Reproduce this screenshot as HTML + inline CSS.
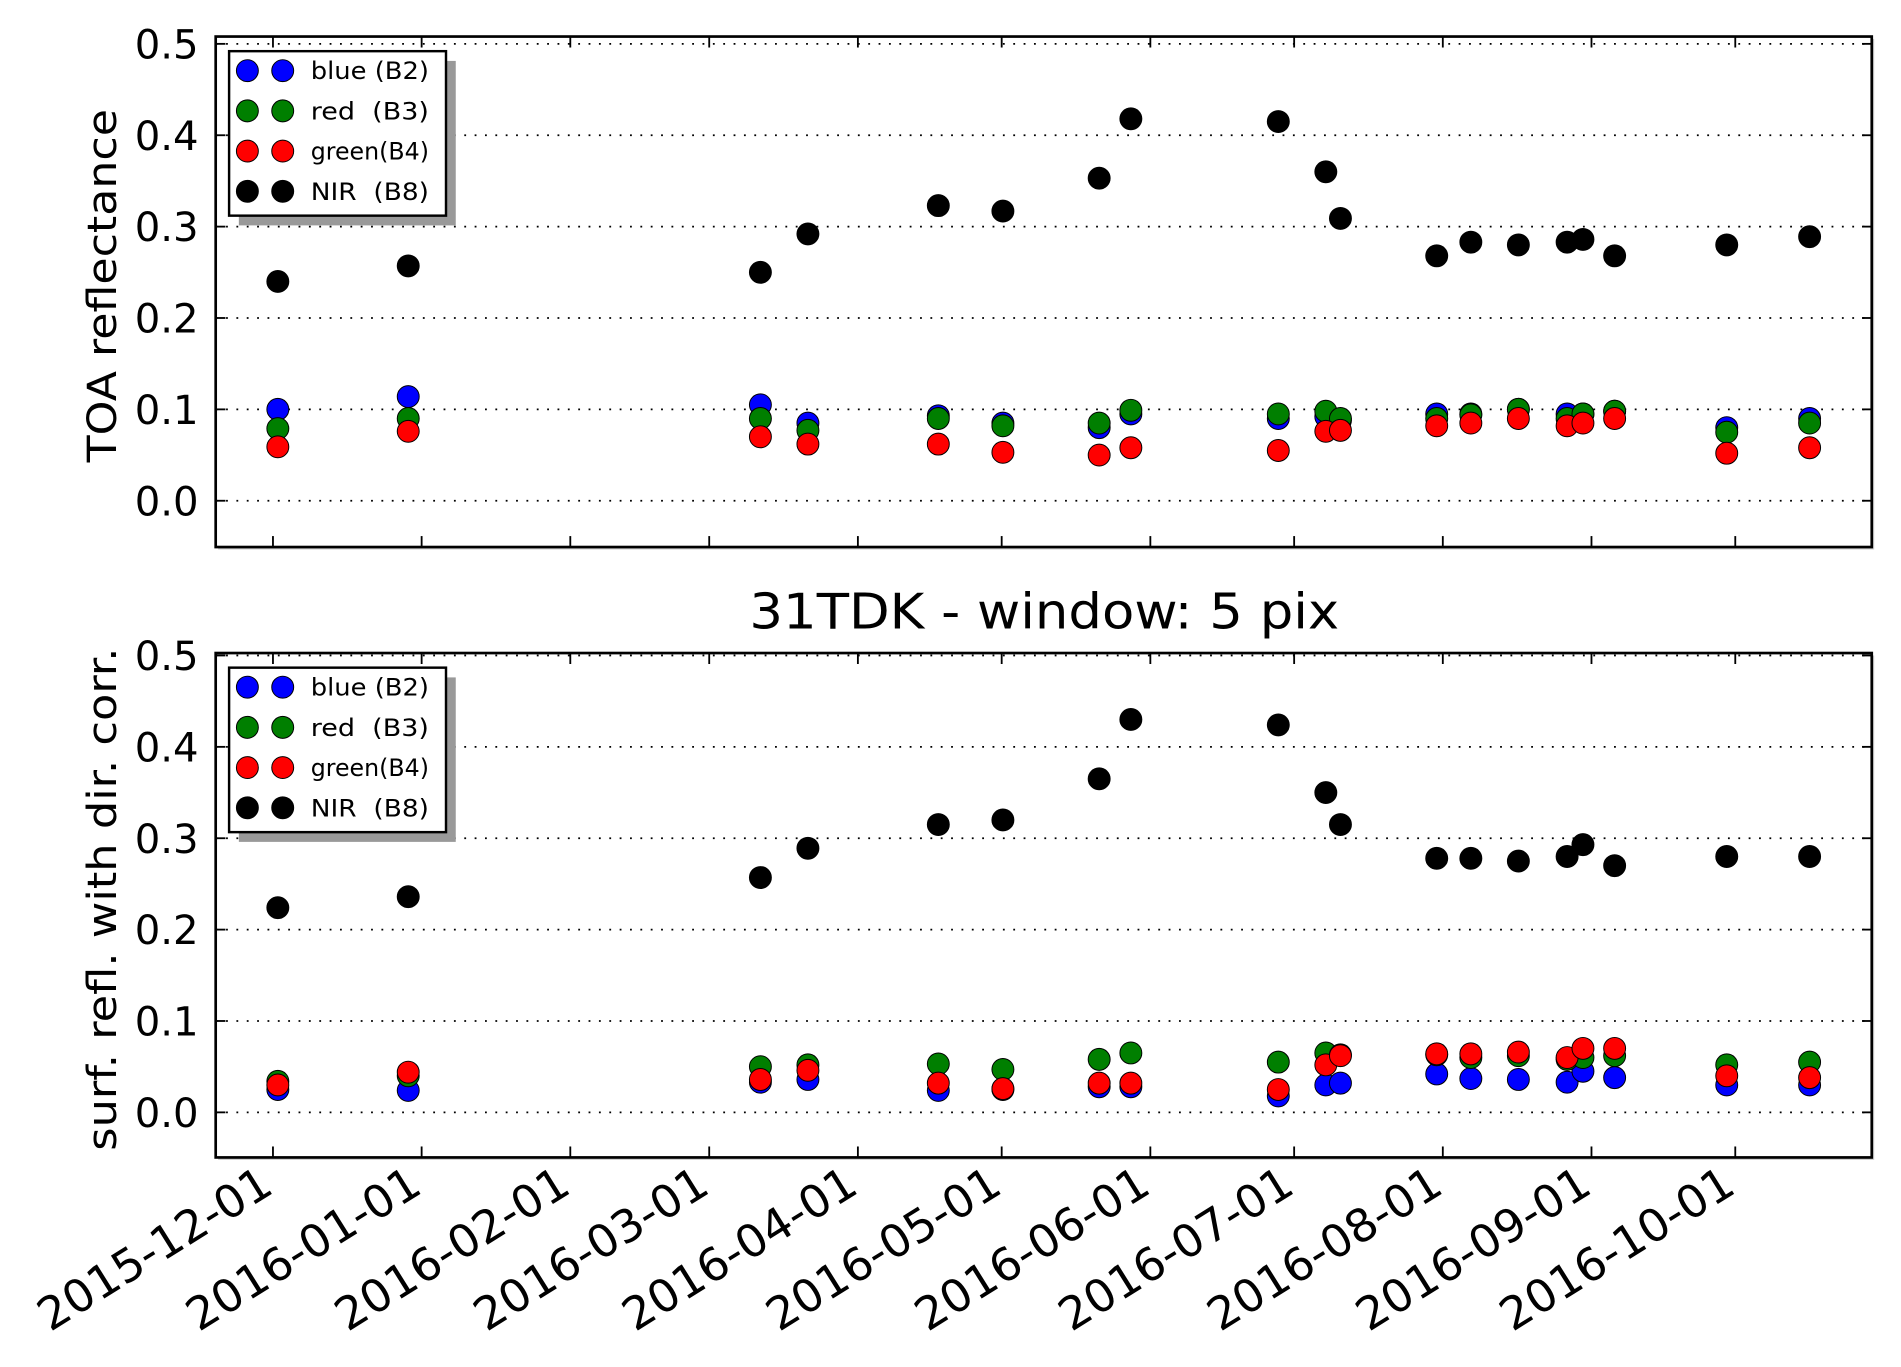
<!DOCTYPE html>
<html><head><meta charset="utf-8"><style>
html,body{margin:0;padding:0;background:#fff;}
svg{display:block;}
text{font-family:"DejaVu Sans","Liberation Sans",sans-serif;fill:#000;}
</style></head><body>
<svg id="s" width="1901" height="1367" viewBox="0 0 1560 1122" preserveAspectRatio="none" xmlns="http://www.w3.org/2000/svg"></svg>
<script>
(function(){
const S=document.getElementById('s');let h='';
const xs=[228,335,624,663,770,823,902,928,1049,1088,1100,1179,1207,1246,1286,1299,1325,1417,1485];
const topD={n:[.24,.257,.25,.292,.323,.317,.353,.418,.415,.36,.309,.268,.283,.28,.283,.286,.268,.28,.289],
b:[.1,.114,.105,.085,.093,.085,.08,.095,.09,.092,.088,.095,.095,.1,.095,.095,.098,.08,.09],
g:[.079,.09,.09,.077,.09,.082,.085,.099,.095,.098,.09,.09,.094,.1,.09,.095,.098,.075,.085],
r:[.059,.076,.07,.062,.062,.053,.05,.058,.055,.076,.077,.082,.085,.09,.082,.085,.09,.052,.058]};
const botD={n:[.224,.236,.257,.289,.315,.32,.365,.43,.424,.35,.315,.278,.278,.275,.28,.293,.27,.28,.28],
b:[.025,.024,.033,.036,.024,.025,.028,.028,.018,.03,.032,.042,.037,.036,.033,.045,.038,.03,.03],
g:[.034,.04,.05,.052,.053,.047,.058,.065,.055,.065,.063,.063,.06,.062,.058,.06,.062,.052,.055],
r:[.03,.044,.036,.046,.032,.026,.032,.032,.025,.052,.062,.064,.064,.066,.06,.07,.07,.04,.038]};
const ticksX=[224,346,468,582,704,822,944,1062,1184,1306,1424];
const labs=['2015-12-01','2016-01-01','2016-02-01','2016-03-01','2016-04-01','2016-05-01','2016-06-01','2016-07-01','2016-08-01','2016-09-01','2016-10-01'];
function panel(T,B,y0,d,ylab,yl1){
 const L=177,R=1536;const Y=v=>y0-v*750;
 h+=`<rect x="${L+2}" y="${T+2}" width="${R-L}" height="${B-T}" fill="#ccc"/><rect x="${L}" y="${T}" width="${R-L}" height="${B-T}" fill="#fff"/>`;
 for(let i=0;i<=5;i++){const y=Y(i/10);
  h+=`<line x1="${L}" x2="${R}" y1="${y}" y2="${y}" stroke="#000" stroke-width="1.4" stroke-dasharray="1.5,7"/>`;
  h+=`<line x1="${L}" x2="${L+8}" y1="${y}" y2="${y}" stroke="#000" stroke-width="1.5"/><line x1="${R-8}" x2="${R}" y1="${y}" y2="${y}" stroke="#000" stroke-width="1.5"/>`;
  h+=`<text x="163" y="${y+12}" font-size="33" text-anchor="end">${(i/10).toFixed(1)}</text>`;}
 for(const x of ticksX){h+=`<line x1="${x}" x2="${x}" y1="${B}" y2="${B-9}" stroke="#000" stroke-width="1.5"/><line x1="${x}" x2="${x}" y1="${T}" y2="${T+9}" stroke="#000" stroke-width="1.5"/>`;}
 const dot=(x,v,c)=>{h+=`<circle cx="${x}" cy="${Y(v)}" r="9" fill="${c}" stroke="#000" stroke-width="0.8"/>`;};
 xs.forEach((x,i)=>dot(x,d.b[i],'#0000ff'));xs.forEach((x,i)=>dot(x,d.g[i],'#007f00'));
 xs.forEach((x,i)=>dot(x,d.r[i],'#ff0000'));xs.forEach((x,i)=>dot(x,d.n[i],'#000'));
 h+=`<rect x="${L}" y="${T}" width="${R-L}" height="${B-T}" fill="none" stroke="#000" stroke-width="2.2"/>`;
 const cy=(T+B)/2-5;
 h+=`<text transform="translate(95,${cy}) rotate(-90)" font-size="33" text-anchor="middle" textLength="${yl1}" lengthAdjust="spacingAndGlyphs">${ylab}</text>`;
 const lx=188,ly=T+12;
 h+=`<rect x="${lx+8}" y="${ly+8}" width="178" height="135" fill="#999"/><rect x="${lx}" y="${ly}" width="178" height="135" fill="#fff" stroke="#000" stroke-width="2"/>`;
 const ent=[['#0000ff','blue (B2)'],['#007f00','red&#160;&#160;(B3)'],['#ff0000','green(B4)'],['#000','NIR&#160;&#160;(B8)']];
 ent.forEach((e,i)=>{const y=ly+16+i*33;
  h+=`<circle cx="${lx+15}" cy="${y}" r="9" fill="${e[0]}" stroke="#000" stroke-width="0.8"/><circle cx="${lx+44}" cy="${y}" r="9" fill="${e[0]}" stroke="#000" stroke-width="0.8"/>`;
  h+=`<text x="${lx+67}" y="${y+7}" font-size="20" textLength="97" lengthAdjust="spacingAndGlyphs">${e[1]}</text>`;});
}
panel(30,449,411,topD,'TOA reflectance',290);
panel(536,950,913,botD,'surf. refl. with dir. corr.',413);
h+=`<text x="857" y="516" font-size="40" text-anchor="middle" textLength="484" lengthAdjust="spacingAndGlyphs">31TDK - window: 5 pix</text>`;
ticksX.forEach((x,i)=>{h+=`<text transform="translate(${x+2},978) rotate(-32)" font-size="37" text-anchor="end" textLength="218" lengthAdjust="spacingAndGlyphs">${labs[i]}</text>`;});
S.innerHTML=h;
})();
</script>
</body></html>
